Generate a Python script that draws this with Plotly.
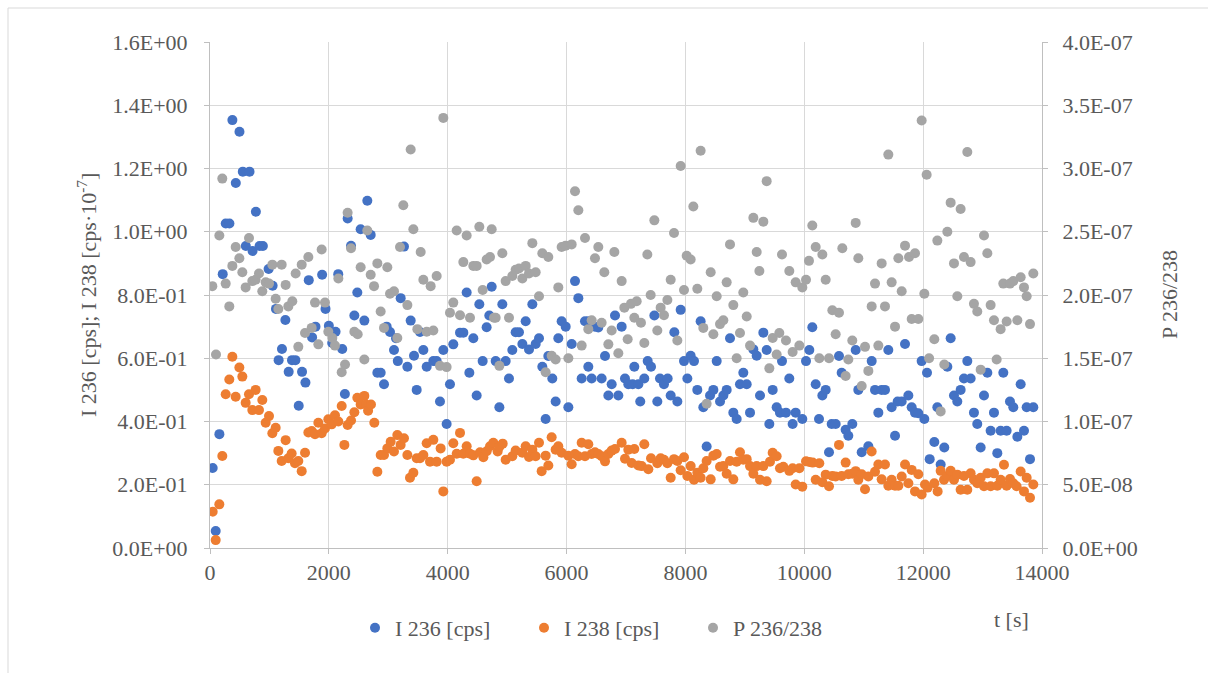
import plotly.graph_objects as go

# ---------------- data ----------------
t_i236 = [45, 96, 158, 214, 265, 327, 377, 434, 496, 552, 603, 665, 716, 772, 834, 890, 986, 1054, 1110, 1155,
          1211, 1268, 1324, 1380, 1437, 1493, 1549, 1606, 1662, 1718, 1775, 1887, 1944, 2000, 2056, 2113, 2158, 2225,
          2270, 2316, 2373, 2429, 2479, 2535, 2597, 2647, 2704, 2816, 2872, 2928, 2973, 3029, 3096, 3130, 3160, 3208,
          3264, 3321, 3377, 3433, 3478, 3534, 3590, 3646, 3758, 3814, 3870, 3926, 3982, 4038, 4094, 4207, 4263, 4319,
          4364, 4431, 4487, 4532, 4588, 4655, 4700, 4740, 4807, 4869, 4919, 4975, 5031, 5087, 5143, 5199, 5256, 5312,
          5368, 5424, 5480, 5536, 5592, 5648, 5693, 5760, 5816, 5861, 5917, 5985, 6030, 6086, 6142, 6198, 6254, 6310,
          6366, 6366, 6422, 6478, 6534, 6590, 6647, 6703, 6759, 6815, 6871, 6927, 6983, 7039, 7112, 7140, 7208, 7240,
          7308, 7365, 7421, 7477, 7527, 7572, 7639, 7701, 7752, 7813, 7864, 7920, 7976, 8032, 8088, 8144, 8200, 8256,
          8301, 8357, 8414, 8470, 8526, 8582, 8638, 8694, 8750, 8806, 8862, 8918, 8974, 9031, 9087, 9143, 9199, 9255,
          9311, 9367, 9412, 9468, 9535, 9591, 9625, 9692, 9748, 9804, 9855, 9967, 10029, 10085, 10135, 10192, 10248,
          10304, 10360, 10416, 10461, 10528, 10584, 10629, 10696, 10741, 10808, 10865, 10909, 10966, 11078, 11134,
          11190, 11246, 11302, 11358, 11414, 11470, 11527, 11571, 11639, 11695, 11751, 11807, 11863, 11919, 11975,
          12020, 12065, 12110, 12188, 12239, 12295, 12356, 12407, 12463, 12519, 12575, 12631, 12687, 12743, 12799,
          12855, 12911, 12968, 13024, 13080, 13136, 13192, 13248, 13304, 13349, 13405, 13461, 13517, 13585, 13641,
          13697, 13742, 13798, 13854]
i236 = [0.253, 0.054, 0.36, 0.866, 1.026, 1.026, 1.353, 1.154, 1.316, 1.19, 0.955, 1.19, 0.939, 1.063, 0.955, 0.955,
        0.882, 0.829, 0.756, 0.594, 0.629, 0.721, 0.557, 0.594, 0.594, 0.45, 0.557, 0.523, 0.847, 0.666, 0.70, 0.864,
        0.756, 0.703, 0.648, 0.684, 0.866, 0.629, 0.487, 1.042, 0.956, 0.735, 0.808, 1.008, 0.719, 1.098, 0.99, 0.554,
        0.554, 0.518, 0.70, 0.683, 0.626, 0.663, 0.591, 0.79, 0.953, 0.573, 0.719, 0.608, 0.50, 0.683, 0.626, 0.573,
        0.591, 0.591, 0.463, 0.626, 0.392, 0.518, 0.644, 0.681, 0.681, 0.808, 0.554, 0.663, 0.482, 0.771, 0.591, 0.698,
        0.735, 0.826, 0.591, 0.445, 0.771, 0.591, 0.536, 0.626, 0.682, 0.682, 0.645, 0.717, 0.628, 0.771, 0.645, 0.663,
        0.573, 0.408, 0.607, 0.536, 0.463, 0.663, 0.717, 0.70, 0.445, 0.645, 0.844, 0.79, 0.536, 0.717, 0.717, 0.573,
        0.536, 0.70, 0.697, 0.536, 0.607, 0.482, 0.518, 0.735, 0.482, 0.70, 0.536, 0.518, 0.518, 0.573, 0.518, 0.463,
        0.536, 0.591, 0.573, 0.735, 0.463, 0.536, 0.518, 0.536, 0.482, 0.682, 0.463, 0.753, 0.591, 0.536, 0.608, 0.591,
        0.50, 0.717, 0.445, 0.321, 0.482, 0.50, 0.591, 0.463, 0.482, 0.50, 0.663, 0.428, 0.408, 0.518, 0.554, 0.518,
        0.428, 0.628, 0.608, 0.482, 0.681, 0.626, 0.392, 0.50, 0.445, 0.428, 0.591, 0.428, 0.536, 0.392, 0.428, 0.408,
        0.591, 0.626, 0.698, 0.518, 0.408, 0.482, 0.50, 0.303, 0.392, 0.392, 0.607, 0.554, 0.374, 0.355, 0.392, 0.626,
        0.50, 0.303, 0.322, 0.591, 0.50, 0.428, 0.50, 0.50, 0.626, 0.445, 0.355, 0.463, 0.463, 0.645, 0.482, 0.445,
        0.428, 0.426, 0.591, 0.408, 0.554, 0.281, 0.335, 0.445, 0.264, 0.318, 0.573, 0.663, 0.482, 0.463, 0.50, 0.536,
        0.591, 0.536, 0.428, 0.392, 0.318, 0.482, 0.554, 0.371, 0.428, 0.300, 0.371, 0.554, 0.371, 0.463, 0.445, 0.352,
        0.518, 0.371, 0.445, 0.281, 0.445]

t_i238 = [45, 96, 157, 207, 264, 325, 376, 432, 494, 544, 600, 656, 712, 768, 824, 880, 937, 993, 1049, 1105, 1150,
          1206, 1273, 1318, 1374, 1430, 1486, 1543, 1599, 1655, 1711, 1767, 1823, 1879, 1935, 1991, 2047, 2103, 2160,
          2216, 2261, 2316, 2373, 2429, 2479, 2535, 2597, 2625, 2660, 2709, 2765, 2816, 2872, 2928, 2984, 3040, 3096,
          3152, 3208, 3264, 3321, 3365, 3422, 3478, 3534, 3590, 3646, 3702, 3758, 3814, 3881, 3926, 3982, 4038, 4094,
          4151, 4207, 4263, 4319, 4375, 4431, 4487, 4544, 4600, 4656, 4712, 4768, 4840, 4869, 4925, 4975, 5087, 5143,
          5256, 5312, 5368, 5424, 5480, 5536, 5581, 5648, 5693, 5749, 5816, 5861, 5917, 6030, 6086, 6142, 6198, 6254,
          6310, 6366, 6422, 6478, 6534, 6590, 6647, 6703, 6759, 6815, 6927, 6983, 7039, 7095, 7140, 7208, 7264, 7308,
          7376, 7421, 7527, 7583, 7639, 7696, 7752, 7808, 7864, 7920, 7976, 8032, 8088, 8144, 8200, 8256, 8301, 8357,
          8425, 8470, 8526, 8582, 8638, 8694, 8750, 8806, 8862, 8918, 8974, 9031, 9087, 9143, 9199, 9255, 9311, 9367,
          9423, 9468, 9535, 9591, 9647, 9748, 9804, 9855, 9917, 9967, 10029, 10085, 10141, 10192, 10253, 10304, 10360,
          10416, 10472, 10528, 10584, 10629, 10696, 10741, 10808, 10865, 10909, 10966, 11022, 11078, 11134, 11190,
          11246, 11302, 11358, 11414, 11470, 11527, 11583, 11639, 11695, 11751, 11807, 11863, 11919, 11975, 12031,
          12076, 12188, 12244, 12295, 12351, 12407, 12463, 12519, 12575, 12631, 12687, 12743, 12799, 12855, 12911,
          12968, 13024, 13080, 13136, 13192, 13248, 13304, 13360, 13405, 13461, 13517, 13573, 13641, 13697, 13742,
          13798, 13854]
i238 = [0.115, 0.025, 0.138, 0.291, 0.486, 0.533, 0.605, 0.478, 0.571, 0.542, 0.459, 0.486, 0.436, 0.50, 0.436, 0.468,
        0.396, 0.417, 0.363, 0.38, 0.307, 0.275, 0.341, 0.284, 0.299, 0.268, 0.275, 0.243, 0.301, 0.365, 0.37, 0.36,
        0.396, 0.363, 0.378, 0.407, 0.391, 0.42, 0.40, 0.449, 0.326, 0.389, 0.403, 0.429, 0.475, 0.454, 0.481, 0.454,
        0.434, 0.454, 0.396, 0.241, 0.294, 0.294, 0.315, 0.336, 0.305, 0.357, 0.326, 0.347, 0.294, 0.222, 0.238, 0.284,
        0.284, 0.294, 0.331, 0.273, 0.342, 0.273, 0.315, 0.179, 0.273, 0.279, 0.331, 0.298, 0.364, 0.298, 0.322, 0.298,
        0.293, 0.211, 0.303, 0.287, 0.306, 0.322, 0.333, 0.305, 0.32, 0.33, 0.279, 0.29, 0.308, 0.301, 0.322, 0.288,
        0.311, 0.29, 0.333, 0.243, 0.292, 0.261, 0.35, 0.311, 0.322, 0.301, 0.292, 0.265, 0.297, 0.29, 0.333, 0.29,
        0.328, 0.297, 0.303, 0.297, 0.29, 0.274, 0.297, 0.308, 0.313, 0.333, 0.282, 0.311, 0.269, 0.313, 0.261, 0.259,
        0.328, 0.249, 0.284, 0.268, 0.284, 0.279, 0.268, 0.222, 0.281, 0.275, 0.246, 0.287, 0.228, 0.259, 0.216, 0.238,
        0.222, 0.252, 0.275, 0.217, 0.292, 0.297, 0.257, 0.259, 0.235, 0.275, 0.217, 0.273, 0.303, 0.279, 0.281, 0.259,
        0.235, 0.259, 0.216, 0.259, 0.211, 0.273, 0.301, 0.29, 0.252, 0.257, 0.244, 0.252, 0.201, 0.252, 0.194, 0.274,
        0.272, 0.270, 0.216, 0.268, 0.208, 0.232, 0.195, 0.228, 0.226, 0.326, 0.228, 0.270, 0.233, 0.235, 0.243, 0.216,
        0.233, 0.186, 0.226, 0.305, 0.241, 0.264, 0.217, 0.264, 0.197, 0.216, 0.197, 0.197, 0.226, 0.264, 0.205, 0.247,
        0.179, 0.233, 0.169, 0.201, 0.191, 0.205, 0.179, 0.244, 0.216, 0.228, 0.244, 0.216, 0.232, 0.184, 0.228, 0.184,
        0.236, 0.216, 0.205, 0.222, 0.195, 0.236, 0.195, 0.236, 0.197, 0.216, 0.263, 0.197, 0.218, 0.205, 0.195, 0.242,
        0.179, 0.222, 0.159, 0.201]

t_p = [39, 101, 157, 207, 264, 325, 376, 432, 494, 544, 600, 656, 712, 768, 824, 880, 937, 993, 1049, 1105, 1150,
       1206, 1273, 1318, 1385, 1441, 1486, 1543, 1599, 1655, 1711, 1767, 1823, 1879, 1935, 1991, 2058, 2103, 2160,
       2216, 2272, 2316, 2373, 2429, 2485, 2535, 2597, 2647, 2704, 2760, 2816, 2872, 2928, 2984, 3029, 3096, 3152,
       3197, 3253, 3321, 3377, 3422, 3489, 3545, 3590, 3646, 3713, 3758, 3814, 3870, 3926, 3982, 4038, 4094, 4151,
       4207, 4263, 4319, 4375, 4431, 4487, 4532, 4588, 4655, 4712, 4740, 4779, 4807, 4869, 4919, 4975, 5031, 5087,
       5143, 5199, 5256, 5312, 5368, 5424, 5480, 5536, 5592, 5648, 5693, 5749, 5816, 5861, 5917, 5985, 6030, 6086,
       6142, 6198, 6254, 6310, 6366, 6422, 6478, 6534, 6590, 6635, 6703, 6759, 6804, 6871, 6927, 6972, 7028, 7084,
       7140, 7180, 7252, 7308, 7359, 7415, 7477, 7527, 7583, 7639, 7696, 7752, 7808, 7864, 7920, 7976, 8021, 8088,
       8133, 8200, 8256, 8301, 8357, 8425, 8470, 8526, 8582, 8638, 8694, 8750, 8806, 8862, 8918, 8974, 9031, 9087,
       9143, 9199, 9244, 9311, 9367, 9412, 9468, 9535, 9580, 9625, 9692, 9748, 9804, 9855, 9917, 9967, 10029, 10079,
       10135, 10192, 10253, 10304, 10360, 10416, 10472, 10528, 10584, 10640, 10696, 10741, 10808, 10865, 10909,
       10966, 11022, 11078, 11134, 11190, 11246, 11302, 11358, 11414, 11470, 11527, 11583, 11639, 11695, 11762,
       11807, 11863, 11919, 11975, 12020, 12059, 12100, 12188, 12239, 12295, 12356, 12407, 12463, 12519, 12575,
       12631, 12687, 12743, 12799, 12855, 12911, 12968, 13024, 13080, 13136, 13192, 13237, 13304, 13349, 13405,
       13461, 13517, 13585, 13641, 13697, 13742, 13798, 13854]
p_ratio = [2.07, 1.53, 2.47, 2.92, 2.09, 1.91, 2.23, 2.38, 2.29, 2.18, 2.06, 2.45, 2.11, 2.12, 2.17, 2.03, 2.10, 2.09,
           2.24, 1.97, 1.89, 2.24, 2.08, 1.91, 1.95, 2.17, 1.59, 2.24, 1.70, 2.30, 1.74, 1.94, 1.61, 2.36, 1.94, 1.71,
           1.66, 1.60, 2.13, 1.39, 1.45, 2.65, 2.37, 1.71, 1.69, 2.22, 1.49, 2.51, 2.16, 2.07, 2.25, 1.87, 1.74, 2.22,
           2.01, 2.03, 1.66, 2.38, 2.71, 1.92, 3.15, 2.52, 1.73, 2.34, 2.12, 1.71, 2.07, 1.72, 2.15, 1.44, 3.40, 1.43,
           1.86, 1.94, 2.51, 1.84, 2.26, 2.47, 1.82, 2.23, 2.23, 2.54, 2.04, 2.28, 2.30, 2.52, 1.82, 1.82, 1.44, 2.33,
           2.11, 1.82, 2.15, 2.20, 2.21, 2.13, 2.23, 2.17, 2.41, 2.18, 1.99, 2.33, 1.39, 2.30, 1.52, 1.49, 2.06, 2.38,
           2.39, 1.50, 2.40, 2.82, 2.67, 1.60, 2.45, 1.73, 1.80, 2.29, 2.38, 1.78, 2.18, 1.61, 1.72, 2.34, 1.54, 2.11,
           1.90, 1.65, 1.93, 1.82, 1.95, 1.78, 1.62, 2.32, 2.00, 2.59, 1.72, 1.90, 1.84, 1.96, 2.12, 2.49, 1.64, 3.02,
           2.04, 2.31, 2.28, 2.70, 2.05, 3.14, 1.74, 1.14, 2.18, 1.69, 1.99, 1.77, 1.80, 2.10, 2.40, 1.92, 1.50, 1.70,
           2.02, 1.83, 1.60, 2.61, 2.34, 2.19, 2.58, 2.90, 1.42, 1.66, 1.53, 1.70, 2.32, 1.64, 2.19, 1.55, 2.10, 1.60,
           2.06, 2.12, 2.27, 2.55, 2.38, 1.50, 2.32, 2.12, 1.50, 1.88, 1.69, 1.86, 2.37, 1.36, 1.49, 1.64, 2.57, 2.29,
           1.28, 1.59, 1.40, 1.91, 2.09, 1.60, 2.25, 1.91, 3.11, 2.10, 1.75, 2.29, 2.03, 2.39, 2.30, 1.81, 2.33, 1.81,
           3.38, 2.01, 2.95, 1.50, 1.65, 2.43, 1.08, 1.45, 2.50, 2.73, 2.25, 1.99, 2.68, 2.30, 3.13, 2.26, 1.93, 1.87,
           1.41, 2.47, 2.33, 1.92, 1.80, 1.49, 1.73, 2.09, 1.79, 2.09, 2.11, 1.80, 2.14, 2.06, 1.99, 1.77, 2.17]
p_ratio = [v * 1e-7 for v in p_ratio]

x_ticks = [0, 2000, 4000, 6000, 8000, 10000, 12000, 14000]
x_ticklabels = ["0", "2000", "4000", "6000", "8000", "10000", "12000", "14000"]
yl_ticks = [0, 0.2, 0.4, 0.6, 0.8, 1.0, 1.2, 1.4, 1.6]
yl_ticklabels = ["0.0E+00", "2.0E-01", "4.0E-01", "6.0E-01", "8.0E-01", "1.0E+00", "1.2E+00", "1.4E+00", "1.6E+00"]
yr_ticks = [0, 0.5e-7, 1e-7, 1.5e-7, 2e-7, 2.5e-7, 3e-7, 3.5e-7, 4e-7]
yr_ticklabels = ["0.0E+00", "5.0E-08", "1.0E-07", "1.5E-07", "2.0E-07", "2.5E-07", "3.0E-07", "3.5E-07", "4.0E-07"]

# ---------------- figure ----------------
FONT = "'Times New Roman', 'Liberation Serif', serif"
TXT = "#595959"
GRID = "#D9D9D9"
AXL = "#BFBFBF"
MS = 10
FS = 22

fig = go.Figure()
fig.add_trace(go.Scatter(x=t_i236, y=i236, mode="markers", name="I 236 [cps]",
                         marker=dict(color="#4472C4", size=MS)))
fig.add_trace(go.Scatter(x=t_i238, y=i238, mode="markers", name="I 238 [cps]",
                         marker=dict(color="#ED7D31", size=MS)))
fig.add_trace(go.Scatter(x=t_p, y=p_ratio, mode="markers", name="P 236/238", yaxis="y2",
                         marker=dict(color="#A5A5A5", size=MS)))

W, H = 1208, 673
L, R, T, B = 210, 166, 42, 125
pw, ph = W - L - R, H - T - B


def px_x(x):
    return (x - L) / pw


def px_y(y):
    return (H - B - y) / ph


axis_common = dict(showline=True, linecolor=AXL, linewidth=1, ticks="outside", ticklen=5, tickcolor=AXL,
                   tickfont=dict(family=FONT, size=FS, color=TXT), zeroline=False)

fig.update_layout(
    width=W, height=H, autosize=False,
    margin=dict(l=L, r=R, t=T, b=B),
    paper_bgcolor="white", plot_bgcolor="white",
    font=dict(family=FONT, size=FS, color=TXT),
    xaxis=dict(range=[0, 14000], tickvals=x_ticks, ticktext=x_ticklabels, showgrid=True, gridcolor=GRID,
               ticklabelstandoff=0, **axis_common),
    yaxis=dict(range=[0, 1.6], tickvals=yl_ticks, ticktext=yl_ticklabels, showgrid=True, gridcolor=GRID,
               ticklabelstandoff=12, **axis_common),
    yaxis2=dict(range=[0, 4e-7], tickvals=yr_ticks, ticktext=yr_ticklabels, overlaying="y", side="right",
                showgrid=False, ticklabelstandoff=10, **axis_common),
    showlegend=True,
    legend=dict(orientation="h", x=px_x(355), xanchor="left", y=px_y(628), yanchor="middle",
                entrywidth=124, entrywidthmode="pixels",
                font=dict(family=FONT, size=FS, color=TXT), bgcolor="rgba(0,0,0,0)"),
    shapes=[dict(type="rect", xref="paper", yref="paper", x0=px_x(8), x1=px_x(1216), y0=px_y(681), y1=px_y(8),
                 line=dict(color=GRID, width=1), fillcolor="rgba(0,0,0,0)", layer="below")],
    annotations=[
        dict(text="I 236 [cps]; I 238 [cps·10<sup>-7</sup>]", xref="paper", yref="paper", x=px_x(87), y=px_y(295),
             textangle=-90, showarrow=False, xanchor="center", yanchor="middle",
             font=dict(family=FONT, size=FS, color=TXT)),
        dict(text="P 236/238", xref="paper", yref="paper", x=px_x(1169), y=px_y(295),
             textangle=-90, showarrow=False, xanchor="center", yanchor="middle",
             font=dict(family=FONT, size=FS, color=TXT)),
        dict(text="t [s]", xref="paper", yref="paper", x=px_x(1011), y=px_y(619),
             showarrow=False, xanchor="center", yanchor="middle",
             font=dict(family=FONT, size=FS, color=TXT)),
    ],
)

fig.write_html("out.html")
